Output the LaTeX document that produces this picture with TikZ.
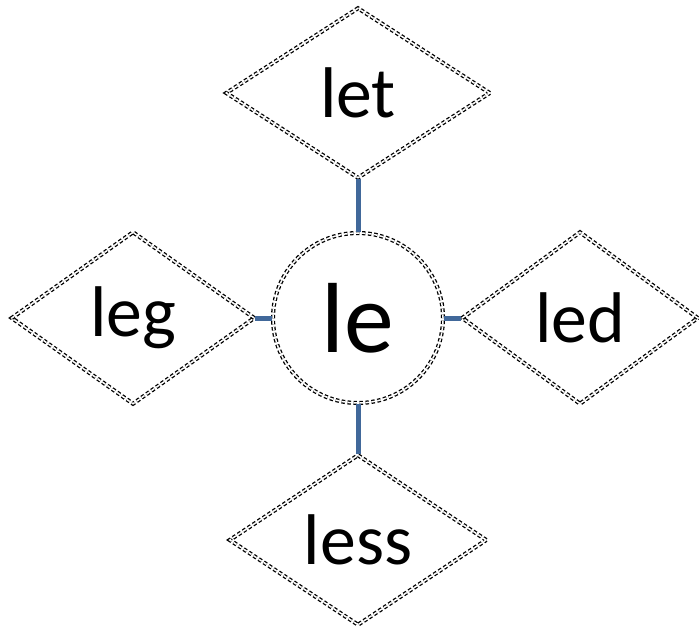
\documentclass[tikz,border=0pt]{standalone}
\usepackage{fontspec}
\setmainfont{Carlito}
\usetikzlibrary{shapes.geometric}
\definecolor{linkblue}{HTML}{41689A}
\begin{document}
\begin{tikzpicture}[x=1bp,y=-1bp,
  dd/.style={draw=black, double=white, double distance=1.5bp, line width=1.3bp, dash pattern=on 3.5bp off 2.5bp},
  dia/.style={dd, diamond, inner sep=0pt, font=\fontsize{72}{80}\selectfont},
  link/.style={draw=linkblue, line width=5bp}]
\useasboundingbox (0,0) rectangle (699,629);
\node[dd, circle, minimum size=170bp, inner sep=0pt, font=\fontsize{100}{110}\selectfont] (c) at (358,318) {le};
\node[dia, minimum width=264bp, minimum height=170bp] (t) at (358,93) {let};
\node[dia, minimum width=243bp, minimum height=172bp] (l) at (133,318) {leg};
\node[dia, minimum width=236bp, minimum height=172bp] (r) at (580,318) {led};
\node[dia, minimum width=257bp, minimum height=170bp] (b) at (358,540) {less};
\draw[link] (t.south) -- (c.north);
\draw[link] (b.north) -- (c.south);
\draw[link] (l.east) -- (c.west);
\draw[link] (r.west) -- (c.east);
\end{tikzpicture}
\end{document}
